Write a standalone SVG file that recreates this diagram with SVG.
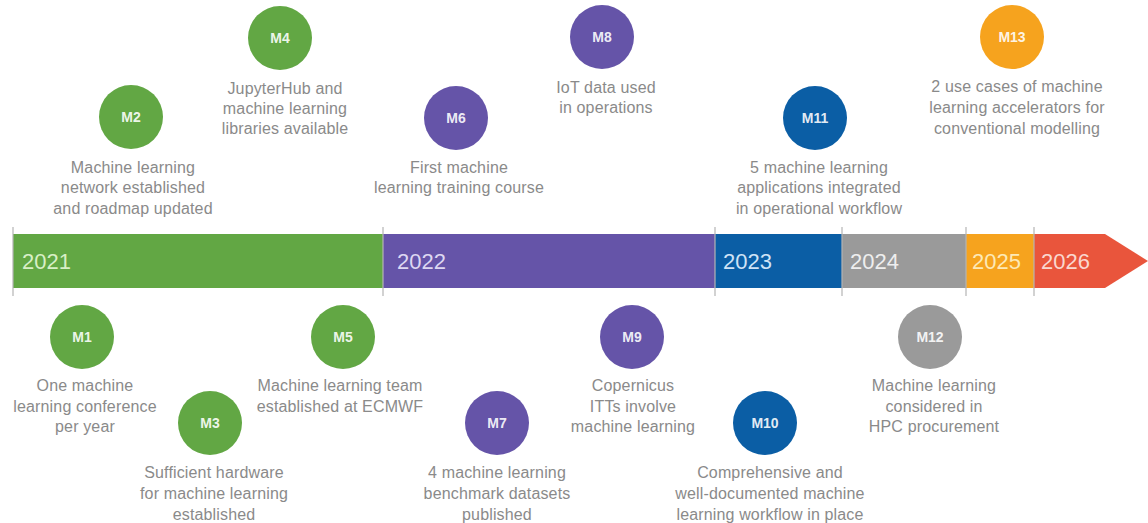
<svg xmlns="http://www.w3.org/2000/svg" width="1148" height="523" viewBox="0 0 1148 523">
  <style>
    .lbl { font-family: "Liberation Sans", Arial, sans-serif; font-size: 16px; fill: #8a8a8a; text-anchor: middle; letter-spacing: 0.15px; }
    .mid { font-family: "Liberation Sans", Arial, sans-serif; font-size: 14px; font-weight: bold; text-anchor: middle; fill: #ffffff; fill-opacity: 0.9; }
    .yr { font-family: "Liberation Sans", Arial, sans-serif; font-size: 22px; }
    .tick { stroke: #b4b4b4; stroke-width: 1.2; }
    .g { fill: #62a744; }
    .p { fill: #6554a8; }
    .b { fill: #0b5ea5; }
    .gr { fill: #9a9a9a; }
    .o { fill: #f6a31e; }
  </style>

  <rect width="1148" height="523" fill="#ffffff"/>

  <!-- timeline bar -->
  <g id="timeline">
    <rect x="13" y="234" width="370" height="54" fill="#62a744"/>
    <rect x="383" y="234" width="332" height="54" fill="#6554a8"/>
    <rect x="715" y="234" width="127" height="54" fill="#0b5ea5"/>
    <rect x="842" y="234" width="124" height="54" fill="#9a9a9a"/>
    <rect x="966" y="234" width="68" height="54" fill="#f6a31e"/>
    <polygon points="1034,234 1105,234 1148,261 1105,288 1034,288" fill="#e9553c"/>
    <line class="tick" x1="13" y1="227" x2="13" y2="296"/>
    <line class="tick" x1="383" y1="227" x2="383" y2="296"/>
    <line class="tick" x1="715" y1="227" x2="715" y2="296"/>
    <line class="tick" x1="842" y1="227" x2="842" y2="296"/>
    <line class="tick" x1="966" y1="227" x2="966" y2="296"/>
    <line class="tick" x1="1034" y1="227" x2="1034" y2="296"/>
    <text class="yr" x="22" y="269" fill="#d8efc6">2021</text>
    <text class="yr" x="397" y="269" fill="#ddd7f2">2022</text>
    <text class="yr" x="723" y="269" fill="#cfe3f6">2023</text>
    <text class="yr" x="850" y="269" fill="#eeeeee">2024</text>
    <text class="yr" x="972" y="269" fill="#fde9b6">2025</text>
    <text class="yr" x="1041" y="269" fill="#fad7cf">2026</text>
  </g>

  <!-- upper milestones -->
  <g id="M2">
    <circle class="g" cx="131" cy="117" r="32"/>
    <text class="mid" x="131" y="122">M2</text>
    <text class="lbl" x="133" y="173">Machine learning</text>
    <text class="lbl" x="133" y="193">network established</text>
    <text class="lbl" x="133" y="214">and roadmap updated</text>
  </g>
  <g id="M4">
    <circle class="g" cx="280" cy="38" r="32"/>
    <text class="mid" x="280" y="43">M4</text>
    <text class="lbl" x="285" y="94">JupyterHub and</text>
    <text class="lbl" x="285" y="114">machine learning</text>
    <text class="lbl" x="285" y="134">libraries available</text>
  </g>
  <g id="M6">
    <circle class="p" cx="456" cy="118" r="32"/>
    <text class="mid" x="456" y="123">M6</text>
    <text class="lbl" x="459" y="173">First machine</text>
    <text class="lbl" x="459" y="193">learning training course</text>
  </g>
  <g id="M8">
    <circle class="p" cx="602" cy="37" r="32"/>
    <text class="mid" x="602" y="42">M8</text>
    <text class="lbl" x="606" y="93">IoT data used</text>
    <text class="lbl" x="606" y="113">in operations</text>
  </g>
  <g id="M11">
    <circle class="b" cx="815" cy="118" r="32"/>
    <text class="mid" x="815" y="123">M11</text>
    <text class="lbl" x="819" y="173">5 machine learning</text>
    <text class="lbl" x="819" y="193">applications integrated</text>
    <text class="lbl" x="819" y="214">in operational workflow</text>
  </g>
  <g id="M13">
    <circle class="o" cx="1012" cy="37" r="32"/>
    <text class="mid" x="1012" y="42">M13</text>
    <text class="lbl" x="1017" y="92">2 use cases of machine</text>
    <text class="lbl" x="1017" y="113">learning accelerators for</text>
    <text class="lbl" x="1017" y="134">conventional modelling</text>
  </g>

  <!-- lower milestones -->
  <g id="M1">
    <circle class="g" cx="82" cy="337" r="32"/>
    <text class="mid" x="82" y="342">M1</text>
    <text class="lbl" x="85" y="391">One machine</text>
    <text class="lbl" x="85" y="412">learning conference</text>
    <text class="lbl" x="85" y="432">per year</text>
  </g>
  <g id="M3">
    <circle class="g" cx="210" cy="423" r="32"/>
    <text class="mid" x="210" y="428">M3</text>
    <text class="lbl" x="214" y="478">Sufficient hardware</text>
    <text class="lbl" x="214" y="499">for machine learning</text>
    <text class="lbl" x="214" y="520">established</text>
  </g>
  <g id="M5">
    <circle class="g" cx="343" cy="337" r="32"/>
    <text class="mid" x="343" y="342">M5</text>
    <text class="lbl" x="340" y="391">Machine learning team</text>
    <text class="lbl" x="340" y="412">established at ECMWF</text>
  </g>
  <g id="M7">
    <circle class="p" cx="497" cy="423" r="32"/>
    <text class="mid" x="497" y="428">M7</text>
    <text class="lbl" x="497" y="478">4 machine learning</text>
    <text class="lbl" x="497" y="499">benchmark datasets</text>
    <text class="lbl" x="497" y="520">published</text>
  </g>
  <g id="M9">
    <circle class="p" cx="632" cy="337" r="32"/>
    <text class="mid" x="632" y="342">M9</text>
    <text class="lbl" x="633" y="391">Copernicus</text>
    <text class="lbl" x="633" y="412">ITTs involve</text>
    <text class="lbl" x="633" y="432">machine learning</text>
  </g>
  <g id="M10">
    <circle class="b" cx="765" cy="423" r="32"/>
    <text class="mid" x="765" y="428">M10</text>
    <text class="lbl" x="770" y="478">Comprehensive and</text>
    <text class="lbl" x="770" y="499">well-documented machine</text>
    <text class="lbl" x="770" y="520">learning workflow in place</text>
  </g>
  <g id="M12">
    <circle class="gr" cx="930" cy="337" r="32"/>
    <text class="mid" x="930" y="342">M12</text>
    <text class="lbl" x="934" y="391">Machine learning</text>
    <text class="lbl" x="934" y="412">considered in</text>
    <text class="lbl" x="934" y="432">HPC procurement</text>
  </g>
</svg>
